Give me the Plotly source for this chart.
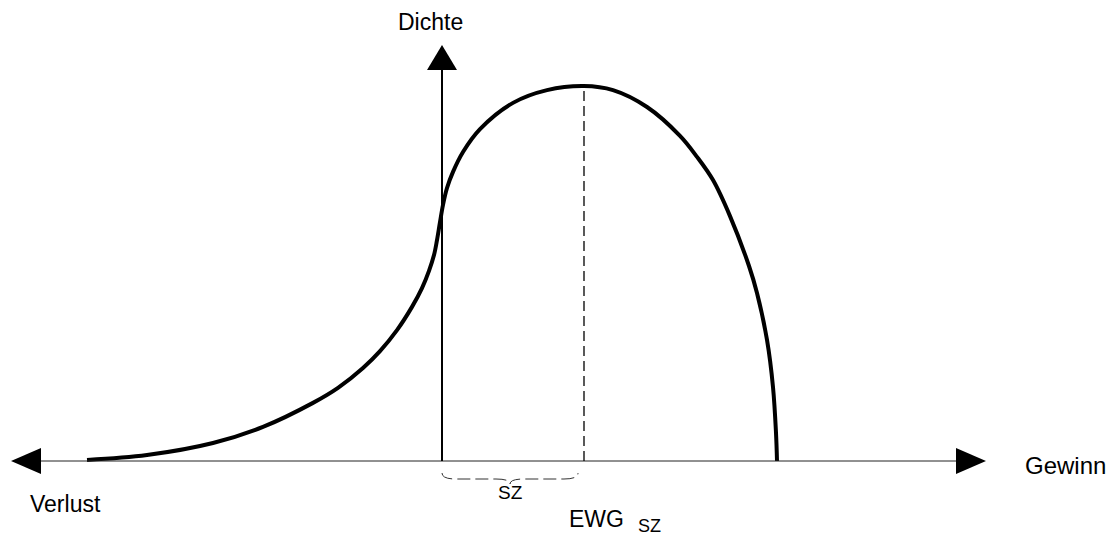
import plotly.graph_objects as go

# ---- data (Gewinn axis: 0 at the density axis; density normalised to peak = 1) ----
gewinn = [-3.55, -2.95, -2.29, -1.79, -1.29, -1.04, -0.79, -0.62, -0.45, -0.30, -0.20,
          -0.13, -0.08, -0.05, -0.02, 0.01, 0.05, 0.11, 0.21, 0.38, 0.71, 1.05, 1.42,
          1.71, 2.05, 2.38, 2.55, 2.71, 2.88, 3.07, 3.15, 3.25, 3.31, 3.34, 3.35]
dichte = [0.003, 0.016, 0.048, 0.091, 0.155, 0.195, 0.248, 0.293, 0.349, 0.411, 0.461,
          0.507, 0.549, 0.589, 0.637, 0.683, 0.728, 0.771, 0.824, 0.885, 0.955, 0.989, 1.000,
          0.989, 0.944, 0.867, 0.811, 0.749, 0.653, 0.520, 0.448, 0.323, 0.197, 0.075, 0.0]
ewg_sz = 1.42          # expected profit (mode position)
ewg_dichte = 1.0

# ---- layout constants ----
W, H = 1117, 535
XR = [-4.42, 6.75]
YR = [-0.1973, 1.2293]
ux = (XR[1] - XR[0]) / W   # data units per pixel, x
uy = (YR[1] - YR[0]) / H   # data units per pixel, y

x_axis_left, x_axis_right = -4.01, 5.14
y_axis_top = 1.0427
arrow_len_px, arrow_half_px = 30, 13

fig = go.Figure()

# density curve
fig.add_trace(go.Scatter(x=gewinn, y=dichte, mode="lines",
                         line=dict(color="black", width=4, shape="spline", smoothing=1.0),
                         hoverinfo="skip", showlegend=False))

shapes = []
# horizontal axis
shapes.append(dict(type="line", x0=x_axis_left, x1=x_axis_right, y0=0, y1=0,
                   line=dict(color="#222", width=1)))
# vertical axis
shapes.append(dict(type="line", x0=0, x1=0, y0=0, y1=y_axis_top,
                   line=dict(color="black", width=2)))
# arrowheads
al, ah = arrow_len_px * ux, arrow_half_px * uy
shapes.append(dict(type="path", fillcolor="black", line=dict(width=0),
                   path=f"M {x_axis_left},{-ah} L {x_axis_left},{ah} L {x_axis_left-al},0 Z"))
shapes.append(dict(type="path", fillcolor="black", line=dict(width=0),
                   path=f"M {x_axis_right},{-ah} L {x_axis_right},{ah} L {x_axis_right+al},0 Z"))
awx, alv = 15 * ux, 25 * uy
shapes.append(dict(type="path", fillcolor="black", line=dict(width=0),
                   path=f"M {-awx},{y_axis_top} L {awx},{y_axis_top} L 0,{y_axis_top+alv} Z"))
# dashed line at EWG
shapes.append(dict(type="line", x0=ewg_sz, x1=ewg_sz, y0=0, y1=ewg_dichte,
                   line=dict(color="black", width=1.3, dash="10px,5px")))
# brace under axis from 0 to EWG
b_end = ewg_sz - 6 * ux
b_mid = b_end / 2
by = -18 * uy
bt = -12 * uy
btip = -23 * uy
c = 14 * ux
brace = (f"M 0,{bt} Q 0,{by} {c},{by} L {b_mid-c},{by} Q {b_mid},{by} {b_mid},{btip} "
         f"Q {b_mid},{by} {b_mid+c},{by} L {b_end-c},{by} Q {b_end},{by} {b_end},{bt}")
shapes.append(dict(type="path", path=brace, line=dict(color="#333", width=1, dash="13px,5px")))

fig.update_layout(shapes=shapes)

font = dict(family="Liberation Sans, Arial, sans-serif", color="black")
ann = []
def label(text, x, y, size, xanchor="center"):
    ann.append(dict(text=text, x=x, y=y, xref="x", yref="y", showarrow=False,
                    xanchor=xanchor, yanchor="middle", font=dict(size=size, **font)))

label("Dichte", -0.12, 1.171, 23)
label("Verlust", -3.77, -0.115, 23)
label("Gewinn", 6.23, -0.013, 24)
label("SZ", b_mid, -0.083, 19)
label("EWG", 1.54, -0.155, 23)
label("SZ", 2.07, -0.172, 18)

fig.update_layout(annotations=ann, width=W, height=H,
                  margin=dict(l=0, r=0, t=0, b=0),
                  paper_bgcolor="white", plot_bgcolor="white",
                  xaxis=dict(range=XR, visible=False, fixedrange=True),
                  yaxis=dict(range=YR, visible=False, fixedrange=True))

fig.write_html("out.html", config={"displayModeBar": False},
               post_script="document.body.style.margin='0';document.body.style.padding='0';")
